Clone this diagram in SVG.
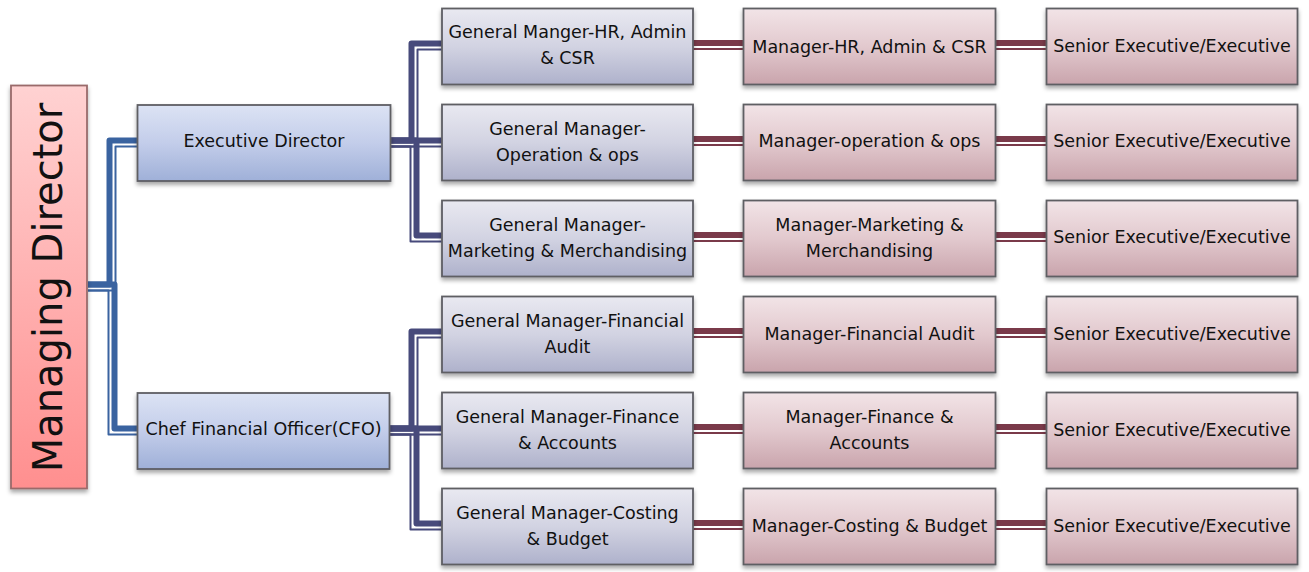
<svg xmlns="http://www.w3.org/2000/svg" width="1309" height="572" viewBox="0 0 1309 572">
<defs>
<linearGradient id="gMD" x1="0" y1="0" x2="0" y2="1"><stop offset="0" stop-color="#FFD2D2"/><stop offset="1" stop-color="#FF8F8F"/></linearGradient>
<linearGradient id="gBlue" x1="0" y1="0" x2="0" y2="1"><stop offset="0" stop-color="#DCE3F4"/><stop offset="0.5" stop-color="#C3CDEA"/><stop offset="1" stop-color="#9FB0D8"/></linearGradient>
<linearGradient id="gGM" x1="0" y1="0" x2="0" y2="1"><stop offset="0" stop-color="#E9E9F1"/><stop offset="0.5" stop-color="#D2D3E2"/><stop offset="1" stop-color="#AEB1CB"/></linearGradient>
<linearGradient id="gMgr" x1="0" y1="0" x2="0" y2="1"><stop offset="0" stop-color="#F2E4E7"/><stop offset="0.5" stop-color="#E2C9CE"/><stop offset="1" stop-color="#C9A4AC"/></linearGradient>
<filter id="sh" x="-10%" y="-10%" width="120%" height="130%"><feDropShadow dx="0" dy="3" stdDeviation="2" flood-color="#000" flood-opacity="0.35"/></filter>
</defs>
<style>
.box{stroke:#5E5E64;stroke-width:1.8;filter:url(#sh)}
.md{fill:url(#gMD);stroke:#9A6B6B}
.bl{fill:url(#gBlue)}
.gm{fill:url(#gGM)}
.mg{fill:url(#gMgr)}
text{font-family:"DejaVu Sans","Liberation Sans",sans-serif;font-size:17.5px;fill:#111;text-anchor:middle}
.big{font-size:40px}
.tk{fill:none;stroke-width:6;stroke-linejoin:round}
.tn{fill:none;stroke-width:2;stroke-linejoin:round}
.c1{stroke:#3A63A0}
.c2{stroke:#474A7B}
.c3{stroke:#7A3A4A}
</style>
<g id="connectors">
<path class="tk c1" d="M88,284.5 H109.5 V140.5 H138"/>
<path class="tn c1" d="M88,290.5 H115.5 V146.5 H138"/>
<path class="tk c1" d="M88,284.5 H114.5 V428.5 H138"/>
<path class="tn c1" d="M88,290.5 H108.5 V434.5 H138"/>
<path class="tk c2" d="M391,140.5 H411.5 V43.5 H443"/>
<path class="tn c2" d="M391,146.5 H417.5 V49.5 H443"/>
<path class="tk c2" d="M391,140.5 H443"/>
<path class="tn c2" d="M391,146.5 H443"/>
<path class="tk c2" d="M391,140.5 H416.5 V235.5 H443"/>
<path class="tn c2" d="M391,146.5 H410.5 V241.5 H443"/>
<path class="tk c2" d="M390,428.5 H411.5 V331.5 H443"/>
<path class="tn c2" d="M390,434.5 H417.5 V337.5 H443"/>
<path class="tk c2" d="M390,428.5 H443"/>
<path class="tn c2" d="M390,434.5 H443"/>
<path class="tk c2" d="M390,428.5 H416.5 V523.5 H443"/>
<path class="tn c2" d="M390,434.5 H410.5 V529.5 H443"/>
<path class="tk c3" d="M693,43 H744 M996,43 H1047 M693,139 H744 M996,139 H1047 M693,235 H744 M996,235 H1047 M693,331 H744 M996,331 H1047 M693,427 H744 M996,427 H1047 M693,523 H744 M996,523 H1047"/>
<path class="tn c3" d="M693,49 H744 M996,49 H1047 M693,145 H744 M996,145 H1047 M693,241 H744 M996,241 H1047 M693,337 H744 M996,337 H1047 M693,433 H744 M996,433 H1047 M693,529 H744 M996,529 H1047"/>
</g>
<g id="md"><rect class="box md" x="11" y="85.5" width="76" height="403"/><text class="big" transform="translate(62,287.5) rotate(-90)">Managing Director</text></g>
<g id="ed"><rect class="box bl" x="137.5" y="105" width="253" height="76"/><text x="264" y="147">Executive Director</text></g>
<g id="cfo"><rect class="box bl" x="137.5" y="393" width="252" height="76"/><text x="263.5" y="435">Chef Financial Officer(CFO)</text></g>
<g id="gm1"><rect class="box gm" x="442" y="8.5" width="251" height="76"/><text x="567.5" y="38">General Manger-HR, Admin</text><text x="567.5" y="64">&amp; CSR</text></g>
<g id="gm2"><rect class="box gm" x="442" y="104.5" width="251" height="76"/><text x="567.5" y="134.5">General Manager-</text><text x="567.5" y="160.5">Operation &amp; ops</text></g>
<g id="gm3"><rect class="box gm" x="442" y="200.5" width="251" height="76"/><text x="567.5" y="230.5">General Manager-</text><text x="567.5" y="256.5">Marketing &amp; Merchandising</text></g>
<g id="gm4"><rect class="box gm" x="442" y="296.5" width="251" height="76"/><text x="567.5" y="326.5">General Manager-Financial</text><text x="567.5" y="352.5">Audit</text></g>
<g id="gm5"><rect class="box gm" x="442" y="392.5" width="251" height="76"/><text x="567.5" y="422.5">General Manager-Finance</text><text x="567.5" y="448.5">&amp; Accounts</text></g>
<g id="gm6"><rect class="box gm" x="442" y="488.5" width="251" height="76"/><text x="567.5" y="518.5">General Manager-Costing</text><text x="567.5" y="544.5">&amp; Budget</text></g>
<g id="m1"><rect class="box mg" x="743.5" y="8.5" width="252" height="76"/><text x="869.5" y="52.5">Manager-HR, Admin &amp; CSR</text></g>
<g id="m2"><rect class="box mg" x="743.5" y="104.5" width="252" height="76"/><text x="869.5" y="147">Manager-operation &amp; ops</text></g>
<g id="m3"><rect class="box mg" x="743.5" y="200.5" width="252" height="76"/><text x="869.5" y="230.5">Manager-Marketing &amp;</text><text x="869.5" y="256.5">Merchandising</text></g>
<g id="m4"><rect class="box mg" x="743.5" y="296.5" width="252" height="76"/><text x="869.5" y="340">Manager-Financial Audit</text></g>
<g id="m5"><rect class="box mg" x="743.5" y="392.5" width="252" height="76"/><text x="869.5" y="422.5">Manager-Finance &amp;</text><text x="869.5" y="448.5">Accounts</text></g>
<g id="m6"><rect class="box mg" x="743.5" y="488.5" width="252" height="76"/><text x="869.5" y="532">Manager-Costing &amp; Budget</text></g>
<g id="s1"><rect class="box mg" x="1046.5" y="8.5" width="251" height="76"/><text x="1172" y="52">Senior Executive/Executive</text></g>
<g id="s2"><rect class="box mg" x="1046.5" y="104.5" width="251" height="76"/><text x="1172" y="147">Senior Executive/Executive</text></g>
<g id="s3"><rect class="box mg" x="1046.5" y="200.5" width="251" height="76"/><text x="1172" y="243">Senior Executive/Executive</text></g>
<g id="s4"><rect class="box mg" x="1046.5" y="296.5" width="251" height="76"/><text x="1172" y="339.5">Senior Executive/Executive</text></g>
<g id="s5"><rect class="box mg" x="1046.5" y="392.5" width="251" height="76"/><text x="1172" y="435.5">Senior Executive/Executive</text></g>
<g id="s6"><rect class="box mg" x="1046.5" y="488.5" width="251" height="76"/><text x="1172" y="531.5">Senior Executive/Executive</text></g>
</svg>
